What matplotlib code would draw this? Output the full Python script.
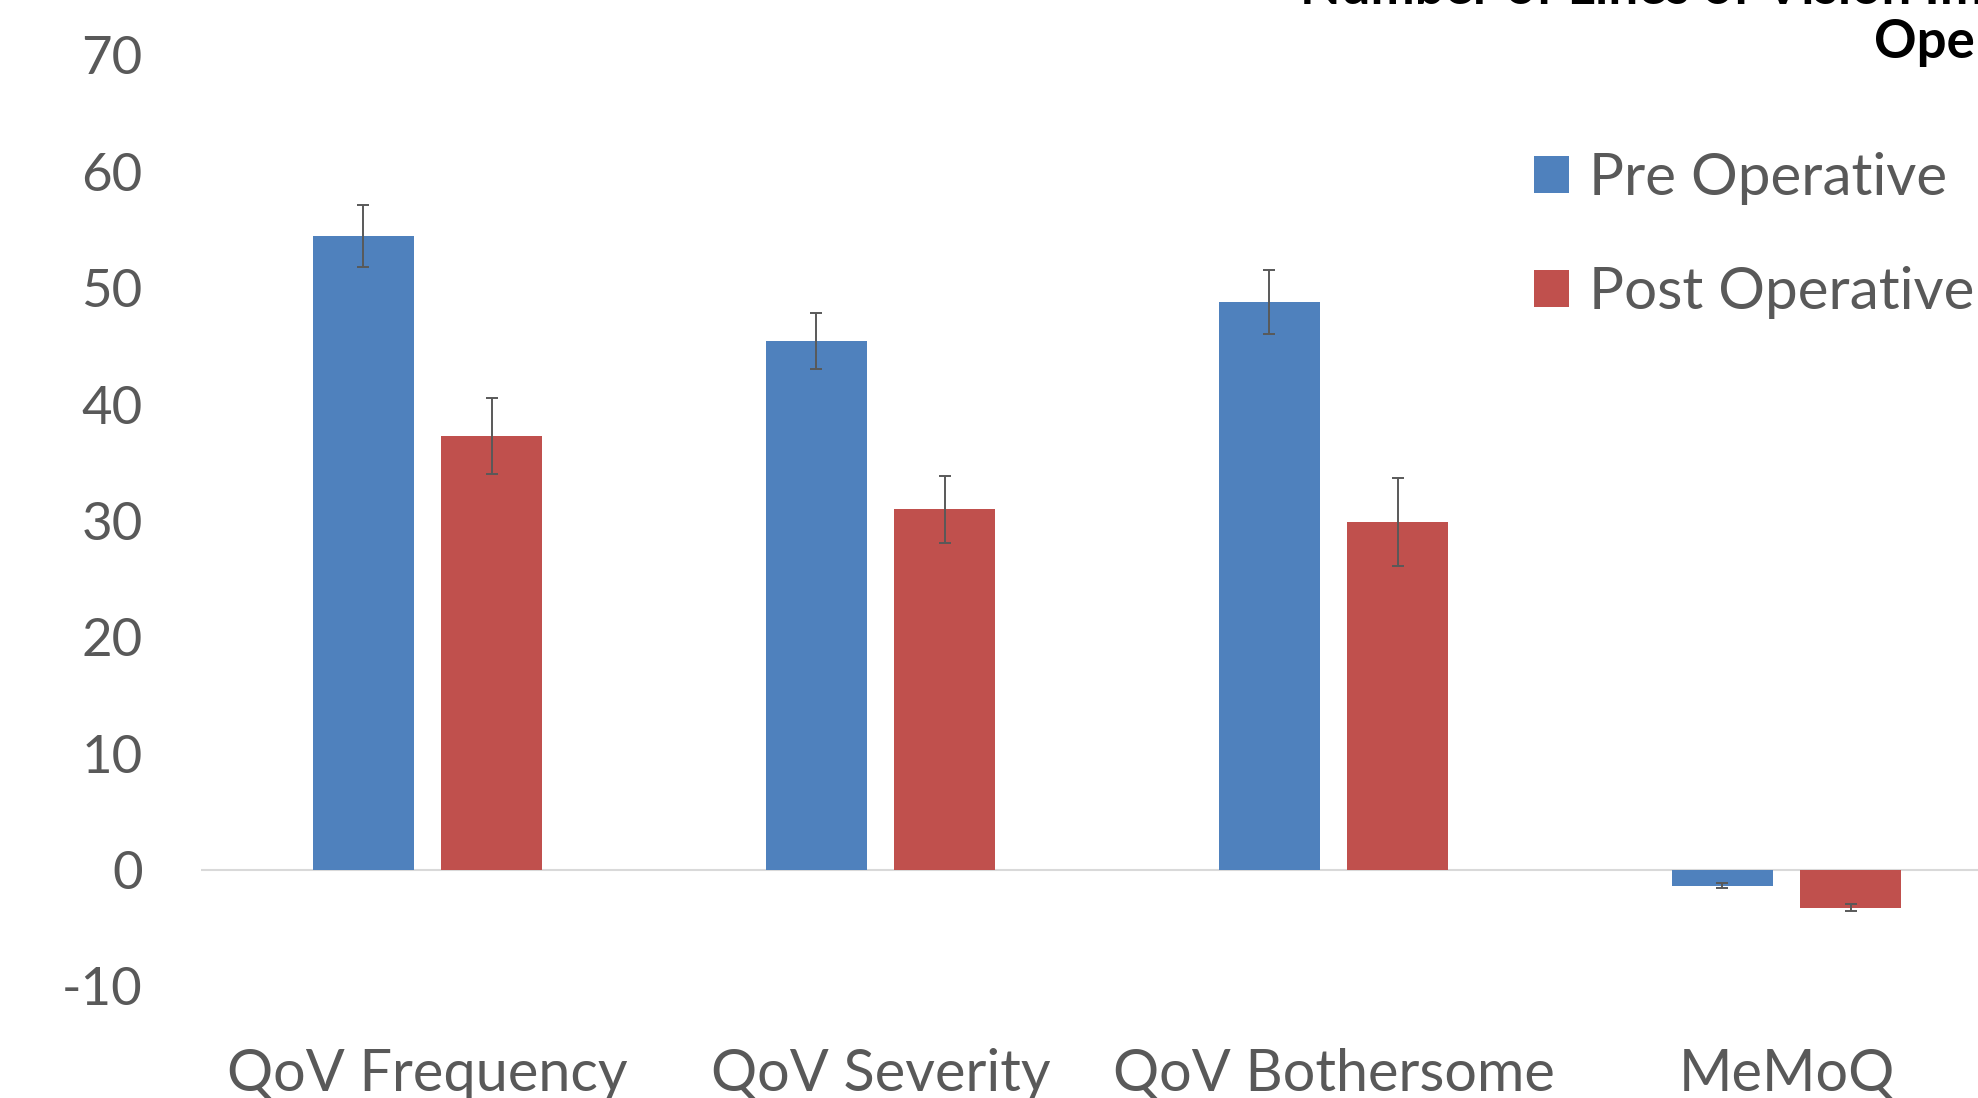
import matplotlib
matplotlib.use('Agg')
import matplotlib.pyplot as plt
import numpy as np

categories = ['QoV Frequency', 'QoV Severity', 'QoV Bothersome', 'MeMoQ']
pre_values = [54.5, 45.5, 48.8, -1.35]
pre_err = [2.65, 2.4, 2.75, 0.2]
post_values = [37.3, 31.0, 29.9, -3.25]
post_err = [3.3, 2.9, 3.8, 0.3]
y_ticks = [-10, 0, 10, 20, 30, 40, 50, 60, 70]

blue = '#4F81BD'
red = '#C0504D'
text_gray = '#595959'

plt.rcParams['font.family'] = ['Lato', 'DejaVu Sans']
plt.rcParams['axes.unicode_minus'] = False

fig = plt.figure(figsize=(19.78, 10.98), dpi=100)
W, H = 1978, 1098
# axes runs past the right edge, as in the cropped original
ax = fig.add_axes([201 / W, 1 - 986.4 / H, (2013 - 201) / W, (986.4 - 55.5) / H])

x = np.arange(len(categories))
off = 0.142
bw = 0.223
err_kw = dict(ecolor=text_gray, elinewidth=1.4, capsize=4.5, capthick=1.4)
ax.bar(x - off, pre_values, bw, color=blue, yerr=pre_err, error_kw=err_kw,
       label='Pre Operative', zorder=2)
ax.bar(x + off, post_values, bw, color=red, yerr=post_err, error_kw=err_kw,
       label='Post Operative', zorder=2)

ax.axhline(0, color='#D9D9D9', lw=1.5, zorder=1)
ax.set_xlim(-0.5, 3.5)
ax.set_ylim(-10, 70)
ax.set_yticks(y_ticks)
ax.set_xticks(x)
ax.set_xticklabels(categories)
for s in ax.spines.values():
    s.set_visible(False)
ax.tick_params(axis='y', length=0, pad=42, labelsize=38, labelcolor=text_gray)
ax.tick_params(axis='x', length=0, pad=44, labelsize=41.5, labelcolor=text_gray)

ax.legend(loc='upper left', bbox_to_anchor=(1534 / W, 1 - 152 / H),
          bbox_transform=fig.transFigure, frameon=False, fontsize=42,
          labelcolor=text_gray, handlelength=0.6, handleheight=0.6,
          handletextpad=0.35, labelspacing=1.04, borderpad=0, borderaxespad=0)

# title, cropped by the top and right edges
fig.text(1300 / W, 1 - 4 / H, 'Number of Lines of Vision Improvement Pre and Post',
         fontsize=38, fontweight='bold', color='black', va='baseline', ha='left')
fig.text(1874 / W, 1 - 58 / H, 'Operative', fontsize=38, fontweight='bold',
         color='black', va='baseline', ha='left')

fig.savefig('out.png', dpi=100)
